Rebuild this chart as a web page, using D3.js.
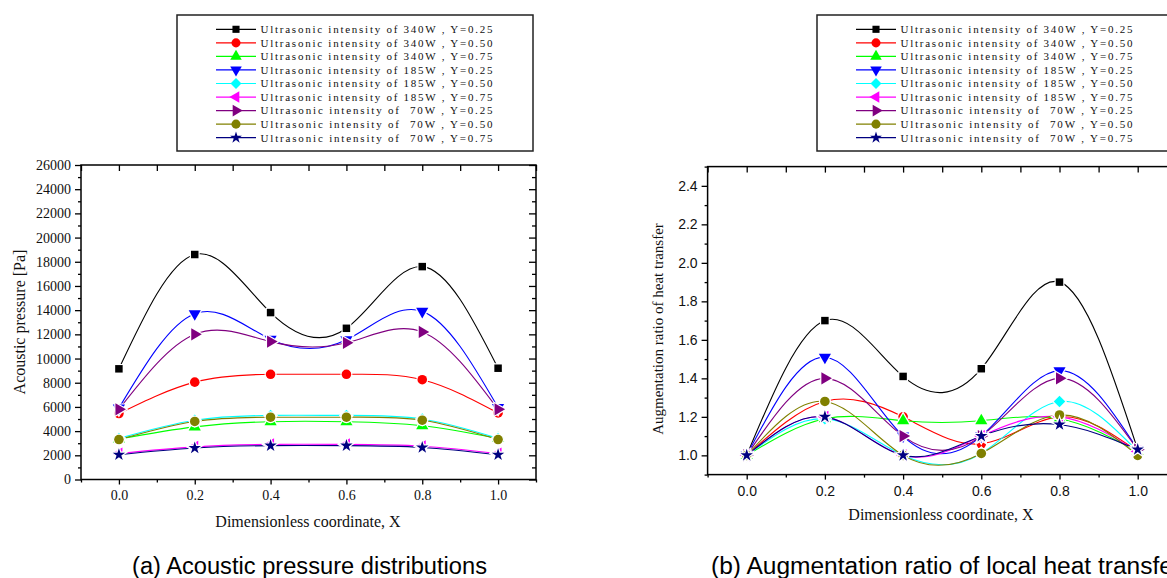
<!DOCTYPE html>
<html>
<head>
<meta charset="utf-8">
<script src="https://cdn.jsdelivr.net/npm/d3@7"></script>
<style>
  html, body { margin: 0; padding: 0; background: #fff; }
  svg { display: block; }
  text { white-space: pre; }
</style>
</head>
<body>
<svg id="chart" width="1167" height="578"></svg>
<script>
// ---------------- DATA ----------------
const xValues = [0.0, 0.2, 0.4, 0.6, 0.8, 1.0];
const xTickValues = [0.0, 0.2, 0.4, 0.6, 0.8, 1.0];
const pressureTickValues = [0, 2000, 4000, 6000, 8000, 10000, 12000, 14000, 16000, 18000, 20000, 22000, 24000, 26000];
const ratioTickValues = [1.0, 1.2, 1.4, 1.6, 1.8, 2.0, 2.2, 2.4];

const seriesLabels = [
  "Ultrasonic intensity of 340W , Y=0.25",
  "Ultrasonic intensity of 340W , Y=0.50",
  "Ultrasonic intensity of 340W , Y=0.75",
  "Ultrasonic intensity of 185W , Y=0.25",
  "Ultrasonic intensity of 185W , Y=0.50",
  "Ultrasonic intensity of 185W , Y=0.75",
  "Ultrasonic intensity of  70W , Y=0.25",
  "Ultrasonic intensity of  70W , Y=0.50",
  "Ultrasonic intensity of  70W , Y=0.75"
];
const seriesColors = ["#000000", "#ff0000", "#00ff00", "#0000ff", "#00ffff", "#ff00ff", "#800080", "#808000", "#000080"];
const seriesSymbols = ["square", "circle", "triangleUp", "triangleDown", "diamond", "triangleLeft", "triangleRight", "circle", "star"];

// (a) acoustic pressure [Pa]
const pressure340_025 = [9150, 18600, 13800, 12500, 17600, 9200];
const pressure340_050 = [5450, 8050, 8700, 8700, 8250, 5500];
const pressure340_075 = [3350, 4350, 4780, 4780, 4450, 3400];
const pressure185_025 = [5900, 13700, 11600, 11550, 13900, 5950];
const pressure185_050 = [3400, 4900, 5300, 5300, 5000, 3400];
const pressure185_075 = [2150, 2700, 2900, 2900, 2750, 2150];
const pressure70_025  = [5800, 12000, 11400, 11300, 12200, 5800];
const pressure70_050  = [3300, 4800, 5150, 5150, 4900, 3300];
const pressure70_075  = [2050, 2600, 2800, 2800, 2650, 2050];

// (b) augmentation ratio of heat transfer
const ratio340_025 = [1.00, 1.70, 1.41, 1.45, 1.90, 1.03];
const ratio340_050 = [1.00, 1.28, 1.20, 1.06, 1.20, 1.02];
const ratio340_075 = [1.00, 1.19, 1.18, 1.18, 1.19, 1.02];
const ratio185_025 = [1.00, 1.51, 1.10, 1.10, 1.44, 1.03];
const ratio185_050 = [1.00, 1.19, 1.00, 1.01, 1.28, 1.02];
const ratio185_075 = [1.00, 1.20, 1.00, 1.10, 1.20, 1.02];
const ratio70_025  = [1.00, 1.40, 1.10, 1.10, 1.40, 1.03];
const ratio70_050  = [1.00, 1.28, 1.00, 1.01, 1.21, 1.00];
const ratio70_075  = [1.00, 1.20, 1.00, 1.10, 1.16, 1.03];

const pressureSeries = [pressure340_025, pressure340_050, pressure340_075, pressure185_025, pressure185_050, pressure185_075, pressure70_025, pressure70_050, pressure70_075];
const ratioSeries = [ratio340_025, ratio340_050, ratio340_075, ratio185_025, ratio185_050, ratio185_075, ratio70_025, ratio70_050, ratio70_075];

// ---------------- DRAWING ----------------
const svg = d3.select("#chart");
const SERIF = "'Liberation Serif', 'Times New Roman', serif";
const SANS = "'Liberation Sans', Arial, sans-serif";

function symbolPath(kind) {
  const m = {
    square: [d3.symbolSquare, 56, 0],
    circle: [d3.symbolCircle, 72, 0],
    triangleUp: [d3.symbolTriangle, 64, 0],
    triangleDown: [d3.symbolTriangle, 64, 180],
    diamond: [d3.symbolSquare, 66, 45],
    triangleLeft: [d3.symbolTriangle, 64, -90],
    triangleRight: [d3.symbolTriangle, 64, 90],
    star: [d3.symbolStar, 48, 0]
  }[kind];
  return { d: d3.symbol(m[0], m[1])(), rot: m[2] };
}

function drawPanel(cfg) {
  const g = svg.append("g");
  const x = cfg.x, y = cfg.y;
  const [x0, x1] = x.range();
  const [yb, yt] = y.range();

  // frame
  g.append("rect").attr("x", x0).attr("y", yt).attr("width", x1 - x0).attr("height", yb - yt)
    .attr("fill", "none").attr("stroke", "#000").attr("stroke-width", 1.5);

  const minorX = d3.range(-1, 12).map(i => +(i / 10).toFixed(2));
  // bottom major
  const bMaj = g.append("g").attr("transform", `translate(0,${yb})`)
    .call(d3.axisBottom(x).tickValues(xTickValues).tickSize(5).tickPadding(6).tickFormat(d3.format(".1f")));
  bMaj.select(".domain").remove();
  bMaj.selectAll("text").attr("font-family", cfg.tickFont).attr("font-size", cfg.tickSize).attr("fill", "#111");
  const bMin = g.append("g").attr("transform", `translate(0,${yb})`)
    .call(d3.axisBottom(x).tickValues(minorX.filter(v => !xTickValues.includes(v))).tickSize(3).tickFormat(""));
  bMin.select(".domain").remove();
  // top (inward)
  const tAx = g.append("g").attr("transform", `translate(0,${yt})`)
    .call(d3.axisTop(x).tickValues(minorX).tickSize(-6).tickFormat(""));
  tAx.select(".domain").remove();

  // left major/minor
  const lMaj = g.append("g").attr("transform", `translate(${x0},0)`)
    .call(d3.axisLeft(y).tickValues(cfg.yTicks).tickSize(6).tickPadding(4).tickFormat(cfg.yFormat));
  lMaj.select(".domain").remove();
  lMaj.selectAll("text").attr("font-family", cfg.tickFont).attr("font-size", cfg.tickSize).attr("fill", "#111");
  const lMin = g.append("g").attr("transform", `translate(${x0},0)`)
    .call(d3.axisLeft(y).tickValues(cfg.yMinor).tickSize(3).tickFormat(""));
  lMin.select(".domain").remove();
  // right (inward)
  const rMaj = g.append("g").attr("transform", `translate(${x1},0)`)
    .call(d3.axisRight(y).tickValues(cfg.yTicks).tickSize(-7).tickFormat(""));
  rMaj.select(".domain").remove();
  const rMin = g.append("g").attr("transform", `translate(${x1},0)`)
    .call(d3.axisRight(y).tickValues(cfg.yMinor).tickSize(-4).tickFormat(""));
  rMin.select(".domain").remove();
  g.selectAll(".tick line").attr("stroke", "#000").attr("stroke-width", 1.3);

  // lines
  const line = d3.line().x((d, i) => x(xValues[i])).y(d => y(d)).curve(d3.curveNatural);
  cfg.series.forEach((s, k) => {
    g.append("path").attr("d", line(s)).attr("fill", "none")
      .attr("stroke", seriesColors[k]).attr("stroke-width", 1.1);
  });
  // markers
  cfg.series.forEach((s, k) => {
    const sp = symbolPath(seriesSymbols[k]);
    g.selectAll(null).data(s).enter().append("path")
      .attr("d", sp.d)
      .attr("transform", (d, i) => `translate(${x(xValues[i])},${y(d)}) rotate(${sp.rot})`)
      .attr("fill", seriesColors[k]).attr("stroke", "#fff").attr("stroke-width", 2.4)
      .style("paint-order", "stroke");
  });

  // axis titles
  g.append("text").attr("x", cfg.xTitlePos[0]).attr("y", cfg.xTitlePos[1]).attr("text-anchor", "middle")
    .attr("font-family", SERIF).attr("font-size", 16).attr("fill", "#111").text("Dimensionless coordinate, X");
  g.append("text").attr("transform", `translate(${cfg.yTitlePos[0]},${cfg.yTitlePos[1]}) rotate(-90)`)
    .attr("text-anchor", "middle").attr("font-family", SERIF).attr("font-size", cfg.yTitleSize).attr("fill", "#111").text(cfg.yTitle);

  // legend
  const L = cfg.legend;
  g.append("rect").attr("x", L.x).attr("y", L.y).attr("width", L.w).attr("height", L.h)
    .attr("fill", "#fff").attr("stroke", "#222").attr("stroke-width", 1.5);
  seriesLabels.forEach((lab, k) => {
    const ly = L.y + 14.3 + k * 13.55;
    g.append("line").attr("x1", L.lx).attr("x2", L.lx + 40).attr("y1", ly).attr("y2", ly)
      .attr("stroke", seriesColors[k]).attr("stroke-width", 1.2);
    const sp = symbolPath(seriesSymbols[k]);
    g.append("path").attr("d", sp.d).attr("transform", `translate(${L.lx + 20},${ly}) rotate(${sp.rot}) scale(0.95)`)
      .attr("fill", seriesColors[k]);
    g.append("text").attr("x", L.lx + 44.5).attr("y", ly + 3.8)
      .attr("font-family", SERIF).attr("font-size", 11).attr("fill", "#111")
      .attr("textLength", 232).attr("lengthAdjust", "spacing").text(lab);
  });

  // caption
  svg.append("text").attr("x", cfg.caption[0]).attr("y", cfg.caption[1])
    .attr("font-family", SANS).attr("font-size", 23).attr("fill", "#000")
    .attr("textLength", cfg.caption[3]).attr("lengthAdjust", "spacingAndGlyphs").text(cfg.caption[2]);
}

drawPanel({
  x: d3.scaleLinear().domain([-0.1, 1.1]).range([81, 536]),
  y: d3.scaleLinear().domain([0, 26000]).range([479.5, 165]),
  yTicks: pressureTickValues,
  yMinor: d3.range(1000, 26000, 2000),
  yFormat: d3.format("d"),
  tickFont: SERIF, tickSize: 14,
  series: pressureSeries,
  xTitlePos: [308, 527],
  yTitlePos: [25, 322], yTitleSize: 16,
  yTitle: "Acoustic pressure [Pa]",
  legend: { x: 177, y: 15, w: 356, h: 136, lx: 216 },
  caption: [132, 574, "(a) Acoustic pressure distributions", 355]
});

drawPanel({
  x: d3.scaleLinear().domain([-0.1, 1.1]).range([707.6, 1176.8]),
  y: d3.scaleLinear().domain([0.9, 2.5]).range([474.6, 166.6]),
  yTicks: ratioTickValues,
  yMinor: [0.9, 1.1, 1.3, 1.5, 1.7, 1.9, 2.1, 2.3, 2.5],
  yFormat: d3.format(".1f"),
  tickFont: SANS, tickSize: 14,
  series: ratioSeries,
  xTitlePos: [941, 520],
  yTitlePos: [663, 329], yTitleSize: 15,
  yTitle: "Augmentation ratio of heat transfer",
  legend: { x: 817, y: 15, w: 400, h: 136, lx: 856 },
  caption: [711, 574, "(b) Augmentation ratio of local heat transfer", 470]
});
</script>
</body>
</html>
